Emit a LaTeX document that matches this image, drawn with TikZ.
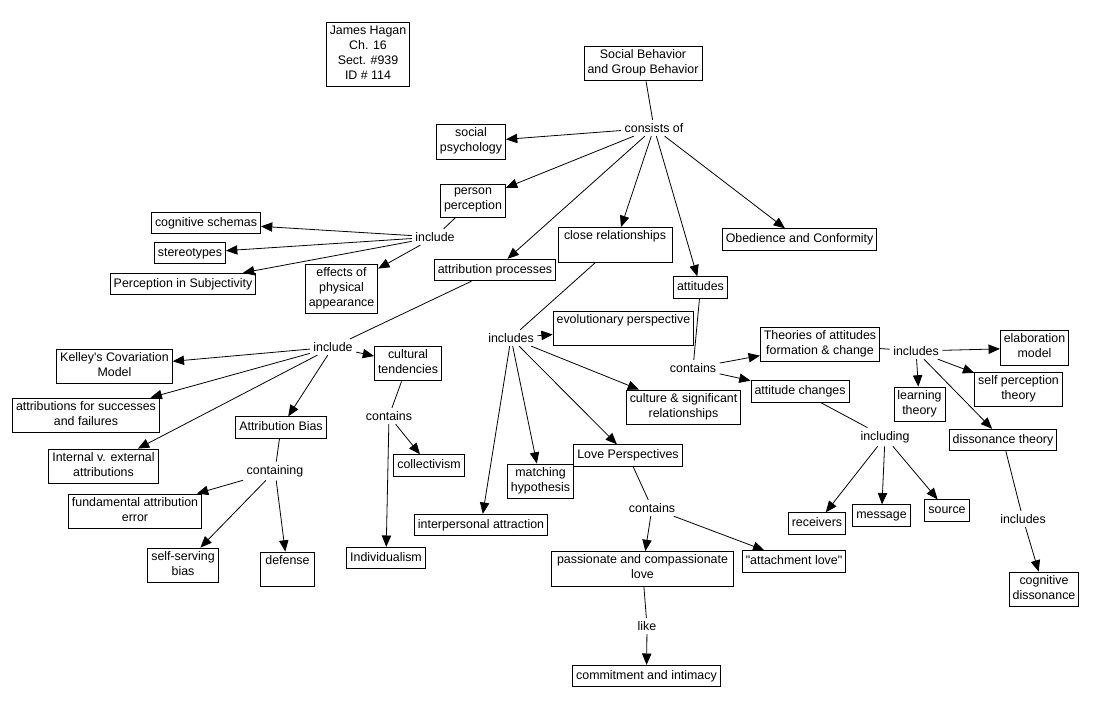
\documentclass[tikz,border=0pt]{standalone}
\usepackage{fontspec}
\setmainfont{Liberation Sans}[Ligatures=TeXOff]
\usepackage{tikz}
\usetikzlibrary{arrows.meta}
\newcommand{\lbl}{\fontsize{9.3}{11.25}\selectfont}

\begin{document}
\begin{tikzpicture}[x=0.75pt,y=-0.75pt,
  concept/.style={draw,line width=0.7pt,fill=white,align=center,inner xsep=2.6pt,inner ysep=2.4pt,
    font=\lbl,execute at begin node=\strut,execute at end node=\strut},
  linkword/.style={align=center,inner sep=2.5pt,font=\lbl},
  link/.style={line width=0.6pt},
  arr/.style={link,-{Triangle[length=8.5pt,width=7pt]}}]
\useasboundingbox (0,0) rectangle (1094,706);

% Header and root
\node[concept] (info) at (368,54.5) {James Hagan\\Ch. 16\\Sect. \#939\\ID \# 114};
\node[concept] (sbgb) at (643,63.5) {Social Behavior\\and Group Behavior};
\node[linkword] (consists) at (654,128) {consists of};

% First level
\node[concept] (socpsy) at (471,142) {social\\psychology};
\node[concept] (perper) at (473,201) {person\\perception};
\node[concept] (attrproc) at (495,270) {attribution processes};
\node[concept,minimum width=85.5pt] (closerel) at (615,245) {close relationships\\~};
\node[concept] (attit) at (700.5,287.5) {attitudes};
\node[concept] (obed) at (799.5,239.5) {Obedience and Conformity};

% Person perception
\node[linkword] (inclpp) at (435,237) {include};
\node[concept] (cogsch) at (206,223) {cognitive schemas};
\node[concept] (stereo) at (190,253) {stereotypes};
\node[concept] (percsub) at (183,284) {Perception in Subjectivity};
\node[concept] (effects) at (341.5,289) {effects of\\physical\\appearance};

% Attribution processes
\node[linkword] (inclab) at (333,347) {include};
\node[concept] (kelley) at (114.5,366.5) {Kelley's Covariation\\Model};
\node[concept] (succfail) at (86,415.5) {attributions for successes\\and failures};
\node[concept] (intext) at (103.5,466.5) {Internal v. external\\attributions};
\node[concept] (attrbias) at (281,427.5) {Attribution Bias};
\node[linkword] (containing) at (275,471) {containing};
\node[concept] (fundam) at (135,511.5) {fundamental attribution\\error};
\node[concept] (selfserv) at (183,565.5) {self-serving\\bias};
\node[concept,minimum width=40pt] (defense) at (287.5,569.5) {defense\\~};
\node[concept] (culttend) at (408,363.5) {cultural\\tendencies};
\node[linkword] (contcult) at (389,416) {contains};
\node[concept] (collect) at (429,465.5) {collectivism};
\node[concept] (individ) at (386,558) {Individualism};

% Close relationships
\node[linkword] (inclcr) at (511,338) {includes};
\node[concept,minimum width=104pt] (evolut) at (623.5,328.5) {evolutionary perspective\\~};
\node[concept] (cultsig) at (683.5,407.5) {culture \& significant\\relationships};
\node[concept] (matching) at (540.5,481.5) {matching\\hypothesis};
\node[concept] (loveper) at (628,455.5) {Love Perspectives};
\node[concept] (interpers) at (481,525) {interpersonal attraction};
\node[linkword] (contlove) at (652,508) {contains};
\node[concept,minimum width=137pt] (passion) at (642.5,569) {passionate and compassionate\\love};
\node[concept] (attach) at (794,561.5) {"attachment love"};
\node[linkword] (like) at (647,626) {like};
\node[concept] (commit) at (646.5,676) {commitment and intimacy};

% Attitudes
\node[linkword] (contatt) at (693,368) {contains};
\node[concept] (theories) at (820,344.5) {Theories of attitudes\\formation \& change};
\node[concept] (attchg) at (800,391.5) {attitude changes};
\node[linkword] (inclth) at (916,351) {includes};
\node[concept] (elab) at (1034.5,348) {elaboration\\model};
\node[concept] (selfperc) at (1018.5,389.5) {self perception\\theory};
\node[concept] (learning) at (919.5,404.5) {learning\\theory};
\node[concept] (disstheo) at (1003,440) {dissonance theory};
\node[linkword] (including) at (885,437) {including};
\node[concept] (receivers) at (817,523.5) {receivers};
\node[concept] (message) at (881.5,515.5) {message};
\node[concept] (source) at (947,510.5) {source};
\node[linkword] (incldis) at (1023,519) {includes};
\node[concept] (cogdis) at (1044,589.5) {cognitive\\dissonance};

% Plain links into linking phrases
\foreach \a/\b in {sbgb/consists, perper/inclpp, attrproc/inclab, attrbias/containing,
    culttend/contcult, closerel/inclcr, loveper/contlove, passion/like, attit/contatt,
    theories/inclth, attchg/including, disstheo/incldis}
  \draw[link] (\a) -- (\b);

% Arrows out of linking phrases
\foreach \t in {socpsy, perper, attrproc, closerel, attit, obed}
  \draw[arr] (consists) -- (\t);
\foreach \t in {cogsch, stereo, percsub, effects}
  \draw[arr] (inclpp) -- (\t);
\foreach \t in {kelley, succfail, intext, attrbias, culttend}
  \draw[arr] (inclab) -- (\t);
\foreach \t in {fundam, selfserv, defense}
  \draw[arr] (containing) -- (\t);
\foreach \t in {collect, individ}
  \draw[arr] (contcult) -- (\t);
\foreach \t in {evolut, cultsig, loveper, matching, interpers}
  \draw[arr] (inclcr) -- (\t);
\foreach \t in {passion, attach}
  \draw[arr] (contlove) -- (\t);
\draw[arr] (like) -- (commit);
\foreach \t in {theories, attchg}
  \draw[arr] (contatt) -- (\t);
\foreach \t in {elab, selfperc, learning, disstheo}
  \draw[arr] (inclth) -- (\t);
\foreach \t in {receivers, message, source}
  \draw[arr] (including) -- (\t);
\draw[arr] (incldis) -- (cogdis);
\end{tikzpicture}
\end{document}
